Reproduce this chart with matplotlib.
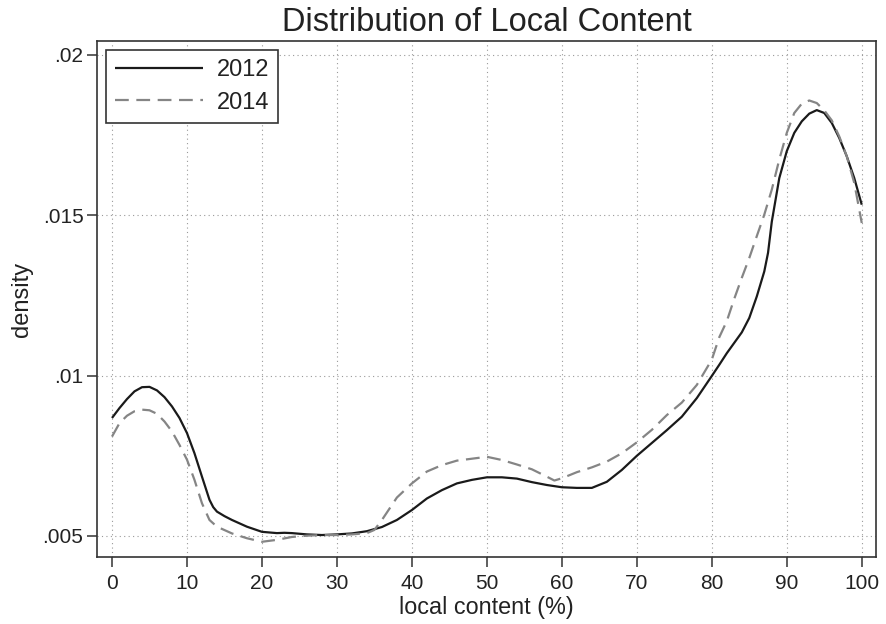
import matplotlib
matplotlib.use("Agg")
import matplotlib.pyplot as plt

plt.rcParams['font.family'] = ['Liberation Sans', 'DejaVu Sans']

# ---- data ----
x_2012 = [0, 1, 2, 3, 4, 5, 6, 7, 8, 9, 10, 11, 12, 13, 13.5, 14, 15, 16, 18, 20,
          22, 23, 24, 26, 28, 30, 32, 34, 36, 38, 40, 42, 44, 46, 48, 50, 52, 54,
          56, 58, 60, 62, 64, 66, 68, 70, 72, 74, 76, 78, 80, 81, 82, 84, 85, 86,
          87, 87.5, 88, 89, 90, 91, 92, 93, 94, 95, 96, 97, 98, 99, 100]
d_2012 = [0.00868, 0.00899, 0.00927, 0.00951, 0.00964, 0.00965, 0.00954, 0.00933,
          0.00904, 0.00868, 0.00821, 0.00758, 0.00685, 0.00613, 0.00590, 0.00576,
          0.00562, 0.00550, 0.00529, 0.00513, 0.00509, 0.00510, 0.00509, 0.00505,
          0.00503, 0.00505, 0.00508, 0.00515, 0.00528, 0.00550, 0.00581, 0.00617,
          0.00643, 0.00664, 0.00675, 0.00683, 0.00683, 0.00679, 0.00668, 0.00659,
          0.00652, 0.00650, 0.00650, 0.00669, 0.00706, 0.00750, 0.00790, 0.00830,
          0.00872, 0.00930, 0.00999, 0.01034, 0.01070, 0.01135, 0.01180, 0.01247,
          0.01325, 0.01383, 0.01480, 0.01616, 0.01700, 0.01757, 0.01793, 0.01817,
          0.01828, 0.01819, 0.01788, 0.01741, 0.01684, 0.01616, 0.01533]

x_2014 = [0, 1, 2, 3, 4, 5, 6, 7, 8, 9, 10, 11, 12, 13, 14, 16, 18, 20, 22, 24,
          26, 28, 30, 32, 34, 35, 36, 38, 40, 42, 44, 46, 48, 50, 52, 54, 56, 58,
          59, 60, 62, 64, 66, 68, 70, 72, 74, 76, 78, 80, 81, 82, 83, 84, 85, 86,
          87, 88, 89, 90, 91, 92, 93, 94, 95, 96, 97, 98, 99, 100]
d_2014 = [0.00810, 0.00852, 0.00875, 0.00889, 0.00894, 0.00892, 0.00881, 0.00857,
          0.00826, 0.00784, 0.00738, 0.00675, 0.00602, 0.00550, 0.00529, 0.00508,
          0.00493, 0.00482, 0.00488, 0.00497, 0.00501, 0.00503, 0.00503, 0.00505,
          0.00509, 0.00519, 0.00550, 0.00620, 0.00664, 0.00701, 0.00721, 0.00735,
          0.00741, 0.00747, 0.00737, 0.00723, 0.00708, 0.00685, 0.00673, 0.00680,
          0.00699, 0.00714, 0.00732, 0.00758, 0.00792, 0.00831, 0.00877, 0.00916,
          0.00971, 0.01050, 0.01120, 0.01170, 0.01240, 0.01305, 0.01367, 0.01435,
          0.01502, 0.01580, 0.01674, 0.01757, 0.01819, 0.01848, 0.01858, 0.01850,
          0.01827, 0.01796, 0.01746, 0.01684, 0.01601, 0.01476]

series_labels = ["2012", "2014"]
x_ticks = [0, 10, 20, 30, 40, 50, 60, 70, 80, 90, 100]
y_ticks = [0.005, 0.01, 0.015, 0.02]
y_tick_labels = [".005", ".01", ".015", ".02"]
title = "Distribution of Local Content"
x_label = "local content (%)"
y_label = "density"

# ---- figure ----
fig = plt.figure(figsize=(8.87, 6.24), dpi=100)
ax = fig.add_axes([0.1097, 0.1069, 0.9876 - 0.1097, 0.9343 - 0.1069])

ax.plot(x_2012, d_2012, color="#1a1a1a", lw=1.6, label=series_labels[0],
        solid_capstyle="butt")
ax.plot(x_2014, d_2014, color="#858585", lw=1.6, label=series_labels[1],
        dashes=(6.2, 3.4))

ax.set_xlim(-1.96, 101.9)
ax.set_ylim(0.004336, 0.020435)
ax.set_xticks(x_ticks)
ax.set_xticklabels([str(t) for t in x_ticks])
ax.set_yticks(y_ticks)
ax.set_yticklabels(y_tick_labels)

ax.grid(True, color="#9a9a9a", linestyle=(0, (1, 3)), lw=0.8)
for s in ax.spines.values():
    s.set_color("#333333")
    s.set_linewidth(1.2)

ax.tick_params(axis="both", direction="out", length=7, width=1.1, color="#333333",
               labelsize=15, labelcolor="#222222")
ax.tick_params(axis="x", pad=5)
ax.tick_params(axis="y", pad=3)

ax.set_title(title, fontsize=23.5, color="#222222", pad=7)
ax.set_xlabel(x_label, fontsize=16.8, color="#222222", labelpad=2)
ax.set_ylabel(y_label, fontsize=17, color="#222222", labelpad=7)

leg = ax.legend(loc="upper left", fontsize=17, frameon=True, fancybox=False,
                edgecolor="#333333", framealpha=1, handlelength=3.7,
                handletextpad=0.6, labelspacing=0.45, borderpad=0.38,
                borderaxespad=0.38)
leg.get_frame().set_linewidth(1.2)
for t in leg.get_texts():
    t.set_color("#222222")

fig.savefig("out.png", dpi=100)
